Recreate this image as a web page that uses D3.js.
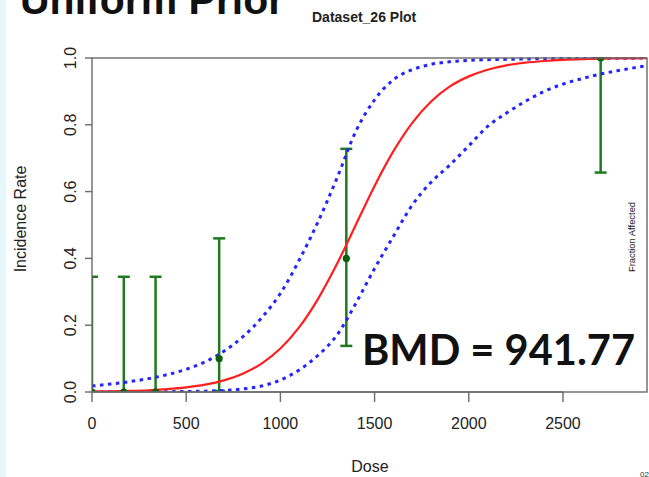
<!DOCTYPE html>
<html>
<head>
<meta charset="utf-8">
<script src="https://cdn.jsdelivr.net/npm/d3@7/dist/d3.min.js"></script>
<style>
  html, body { margin: 0; padding: 0; background: #fff; }
  svg { display: block; }
</style>
</head>
<body>
<svg id="chart" width="649" height="477"></svg>
<script>
// ---- data ----
const doses = [0, 168.75, 337.5, 675, 1350, 2700];
const observed = [0, 0, 0, 0.10, 0.40, 1.0];
const ciLower = [0, 0, 0, 0.003, 0.138, 0.657];
const ciUpper = [0.345, 0.345, 0.345, 0.46, 0.728, 1.0];

const curveDose = [0,100,200,300,400,500,600,700,800,900,1000,1100,1200,1300,1400,1500,1600,1700,1800,1900,2000,2100,2200,2300,2400,2500,2600,2700,2800,2946];
const medianCurve = [0.0013,0.0021,0.0033,0.0053,0.0086,0.0138,0.0219,0.0347,0.0548,0.085,0.130,0.194,0.279,0.383,0.5,0.617,0.721,0.806,0.870,0.915,0.945,0.965,0.978,0.986,0.991,0.9945,0.9966,0.9979,0.9987,0.9993];
const upperCurve = [0.018,0.024,0.031,0.040,0.052,0.068,0.090,0.122,0.165,0.222,0.295,0.395,0.51,0.64,0.78,0.875,0.935,0.965,0.981,0.989,0.993,0.995,0.996,0.997,0.998,0.9985,0.999,0.9993,0.9995,0.9997];
const lowerCurve = [0.0003,0.0004,0.0005,0.0007,0.001,0.0015,0.0025,0.0045,0.009,0.018,0.036,0.066,0.11,0.17,0.265,0.37,0.466,0.56,0.628,0.68,0.737,0.795,0.835,0.87,0.9,0.922,0.938,0.952,0.963,0.977];

const xTicks = [0, 500, 1000, 1500, 2000, 2500];
const yTicks = [0, 0.2, 0.4, 0.6, 0.8, 1.0];

// ---- layout ----
const svg = d3.select("#chart");
const L = 92, R = 647, T = 58, B = 392;
const x = d3.scaleLinear().domain([0, 2946]).range([L, R]);
const y = d3.scaleLinear().domain([0, 1]).range([B, T]);

// slide background strip
svg.append("rect").attr("x", 0).attr("y", 0).attr("width", 6).attr("height", 477).attr("fill", "#e6f8fc");

svg.append("defs").append("clipPath").attr("id", "plotclip")
  .append("rect").attr("x", L).attr("y", T - 1).attr("width", R - L).attr("height", B - T + 1);

const plot = svg.append("g").attr("clip-path", "url(#plotclip)");

const line = (vals) => d3.line()
  .x((d, i) => x(curveDose[i]))
  .y(d => y(d))
  .curve(d3.curveMonotoneX)(vals);

// error bars
const green = "#1f7a1f";
const eb = plot.append("g");
doses.forEach((d, i) => {
  eb.append("line").attr("x1", x(d)).attr("x2", x(d)).attr("y1", y(ciLower[i])).attr("y2", y(ciUpper[i]))
    .attr("stroke", green).attr("stroke-width", 2.5);
  [ciLower[i], ciUpper[i]].forEach(v => {
    eb.append("line").attr("x1", x(d) - 6).attr("x2", x(d) + 6).attr("y1", y(v)).attr("y2", y(v))
      .attr("stroke", green).attr("stroke-width", 2.5);
  });
});

// curves
plot.append("path").attr("d", line(upperCurve)).attr("fill", "none").attr("stroke", "#2424ff")
  .attr("stroke-width", 3).attr("stroke-dasharray", "3.5,4.5");
plot.append("path").attr("d", line(lowerCurve)).attr("fill", "none").attr("stroke", "#2424ff")
  .attr("stroke-width", 3).attr("stroke-dasharray", "3.5,4.5");
plot.append("path").attr("d", line(medianCurve)).attr("fill", "none").attr("stroke", "#ff1f1f")
  .attr("stroke-width", 2.2);

// points
plot.selectAll("circle.pt").data(doses).join("circle")
  .attr("cx", d => x(d)).attr("cy", (d, i) => y(observed[i])).attr("r", 3.6).attr("fill", "#0b5e0b");

// box
svg.append("rect").attr("x", L).attr("y", T).attr("width", R - L).attr("height", B - T)
  .attr("fill", "none").attr("stroke", "#6a6a6a").attr("stroke-width", 1.4);

const font = "'Liberation Sans', Arial, sans-serif";

// x axis (R style)
const xa = svg.append("g");
xa.append("line").attr("x1", x(0)).attr("x2", x(2500)).attr("y1", B).attr("y2", B).attr("stroke", "#6a6a6a").attr("stroke-width", 1.4);
xTicks.forEach(t => {
  xa.append("line").attr("x1", x(t)).attr("x2", x(t)).attr("y1", B).attr("y2", B + 10).attr("stroke", "#6a6a6a").attr("stroke-width", 1.4);
  xa.append("text").attr("x", x(t)).attr("y", 429).attr("text-anchor", "middle")
    .attr("font-family", font).attr("font-size", 16).attr("fill", "#222").text(t);
});

// y axis
const ya = svg.append("g");
yTicks.forEach(t => {
  ya.append("line").attr("x1", L - 7).attr("x2", L).attr("y1", y(t)).attr("y2", y(t)).attr("stroke", "#6a6a6a").attr("stroke-width", 1.4);
  ya.append("text").attr("transform", `translate(76,${y(t)}) rotate(-90)`).attr("text-anchor", "middle")
    .attr("font-family", font).attr("font-size", 16).attr("fill", "#222").text(d3.format(".1f")(t));
});

// axis titles
svg.append("text").attr("x", 370).attr("y", 472).attr("text-anchor", "middle")
  .attr("font-family", font).attr("font-size", 16).attr("fill", "#222").text("Dose");
svg.append("text").attr("transform", "translate(26,219) rotate(-90)").attr("text-anchor", "middle")
  .attr("font-family", font).attr("font-size", 16).attr("fill", "#222").text("Incidence Rate");

// titles
svg.append("text").attr("x", 20).attr("y", 14).attr("font-family", font).attr("font-weight", "bold")
  .attr("font-size", 41).attr("fill", "#111").text("Uniform Prior");
svg.append("text").attr("x", 312).attr("y", 22).attr("font-family", font).attr("font-weight", "bold")
  .attr("font-size", 14).attr("fill", "#222").text("Dataset_26 Plot");

// side label
svg.append("text").attr("transform", "translate(635,237) rotate(-90)").attr("text-anchor", "middle")
  .attr("font-family", font).attr("font-size", 9.4).attr("fill", "#222").text("Fraction Affected");

// BMD annotation
svg.append("text").attr("x", 362).attr("y", 365).attr("font-family", "Lato, 'Open Sans', sans-serif")
  .attr("font-weight", "bold").attr("font-size", 42).attr("fill", "#111")
  .attr("textLength", 273).attr("lengthAdjust", "spacingAndGlyphs").text("BMD = 941.77");

// corner text
svg.append("text").attr("x", 640).attr("y", 477).attr("font-family", font).attr("font-size", 8)
  .attr("fill", "#333").text("02:");
</script>
</body>
</html>
